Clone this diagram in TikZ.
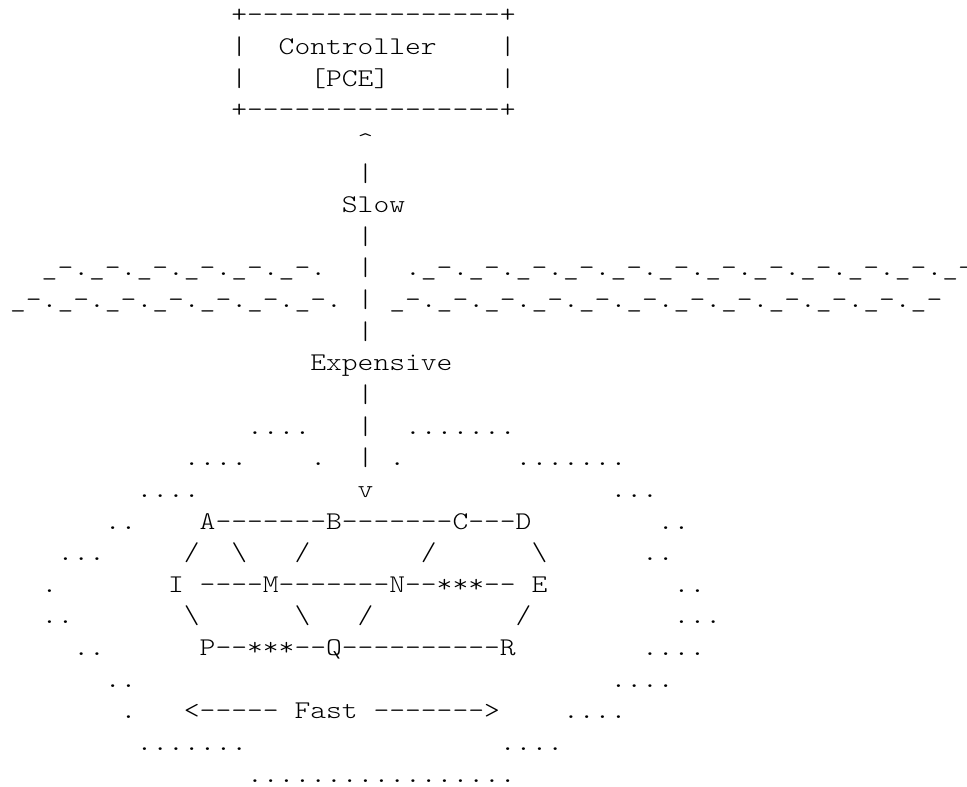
\documentclass[tikz,border=0pt]{standalone}
\usepackage{fontspec}
\setmonofont[FakeStretch=1.1802]{lmmonolt10-regular.otf}
\tikzset{txt/.style={anchor=base west, inner sep=0pt, outer sep=0pt,
  font=\ttfamily\fontsize{19.125pt}{23pt}\selectfont}}
% #1 name, #2 row, #3 column, #4 text
\newcommand\txtat[4]{\node[txt] (#1) at ({10.1+15.8*(#3)},{23+31.625*(#2)}) {#4};}
\begin{document}
\begin{tikzpicture}[x=0.75pt,y=-0.75pt]
\useasboundingbox (0,0) rectangle (967,787);
% controller box
\txtat{boxtop}{0}{14}{+----------------+}
\txtat{boxl1}{1}{14}{|}
\txtat{ctrl}{1}{17}{Controller}
\txtat{boxr1}{1}{31}{|}
\txtat{boxl2}{2}{14}{|}
\txtat{pce}{2}{19}{[PCE]}
\txtat{boxr2}{2}{31}{|}
\txtat{boxbot}{3}{14}{+----------------+}
% vertical link
\txtat{up}{4}{22}{\textasciicircum}
\txtat{v5}{5}{22}{|}
\txtat{slow}{6}{21}{Slow}
\txtat{v7}{7}{22}{|}
\txtat{wl8}{8}{2}{\_-.\_-.\_-.\_-.\_-.\_-.}
\txtat{v8}{8}{22}{|}
\txtat{wr8}{8}{25}{.\_-.\_-.\_-.\_-.\_-.\_-.\_-.\_-.\_-.\_-.\_-.\_-}
\txtat{wl9}{9}{0}{\_-.\_-.\_-.\_-.\_-.\_-.\_-.}
\txtat{v9}{9}{22}{|}
\txtat{wr9}{9}{24}{\_-.\_-.\_-.\_-.\_-.\_-.\_-.\_-.\_-.\_-.\_-.\_-}
\txtat{v10}{10}{22}{|}
\txtat{exp}{11}{19}{Expensive}
\txtat{v12}{12}{22}{|}
\txtat{d13a}{13}{15}{....}
\txtat{v13}{13}{22}{|}
\txtat{d13b}{13}{25}{.......}
\txtat{d14a}{14}{11}{....}
\txtat{d14b}{14}{19}{.}
\txtat{v14}{14}{22}{|}
\txtat{d14c}{14}{24}{.}
\txtat{d14d}{14}{32}{.......}
\txtat{d15a}{15}{8}{....}
\txtat{down}{15}{22}{v}
\txtat{d15b}{15}{38}{...}
% network
\txtat{d16a}{16}{6}{..}
\txtat{abcd}{16}{12}{A-------B-------C---D}
\txtat{d16b}{16}{41}{..}
\txtat{d17a}{17}{3}{...}
\txtat{s17a}{17}{11}{/}
\txtat{s17b}{17}{14}{\textbackslash}
\txtat{s17c}{17}{18}{/}
\txtat{s17d}{17}{26}{/}
\txtat{s17e}{17}{33}{\textbackslash}
\txtat{d17b}{17}{40}{..}
\txtat{d18a}{18}{2}{.}
\txtat{nI}{18}{10}{I}
\txtat{imn}{18}{12}{----M-------N--***--}
\txtat{nE}{18}{33}{E}
\txtat{d18b}{18}{42}{..}
\txtat{d19a}{19}{2}{..}
\txtat{s19a}{19}{11}{\textbackslash}
\txtat{s19b}{19}{18}{\textbackslash}
\txtat{s19c}{19}{22}{/}
\txtat{s19d}{19}{32}{/}
\txtat{d19b}{19}{42}{...}
\txtat{d20a}{20}{4}{..}
\txtat{pqr}{20}{12}{P--***--Q----------R}
\txtat{d20b}{20}{40}{....}
\txtat{d21a}{21}{6}{..}
\txtat{d21b}{21}{38}{....}
\txtat{d22a}{22}{7}{.}
\txtat{fl}{22}{11}{<-----}
\txtat{fast}{22}{18}{Fast}
\txtat{fr}{22}{23}{------->}
\txtat{d22b}{22}{35}{....}
\txtat{d23a}{23}{8}{.......}
\txtat{d23b}{23}{31}{....}
\txtat{d24}{24}{15}{.................}
\end{tikzpicture}
\end{document}
